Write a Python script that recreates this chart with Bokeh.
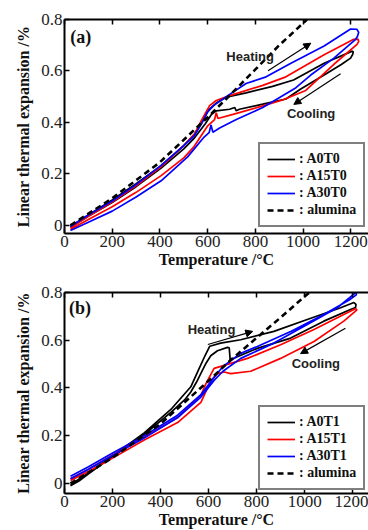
from bokeh.plotting import figure
from bokeh.models import (Range1d, LinearAxis, FixedTicker, Legend, LegendItem,
                          Label, Arrow, NormalHead)
from bokeh.layouts import column
from bokeh.embed import file_html
from bokeh.resources import INLINE

# ---------------- panel (a) data ----------------
a_A0T0_T = [25, 100, 200, 300, 405, 500, 545, 590, 615, 636, 692, 713, 720, 733, 831, 928, 990, 1088, 1160, 1199, 1208,
            1210, 1206, 1088, 960, 872, 761, 678, 636, 605, 575, 545, 500, 405, 300, 200, 100, 25]
a_A0T0_E = [-0.008, 0.035, 0.088, 0.150, 0.222, 0.297, 0.340, 0.395, 0.430, 0.445, 0.451, 0.458, 0.445, 0.451, 0.471, 0.491, 0.530, 0.584, 0.625, 0.650, 0.665,
            0.675, 0.677, 0.630, 0.565, 0.540, 0.515, 0.498, 0.475, 0.450, 0.400, 0.355, 0.310, 0.232, 0.162, 0.098, 0.040, -0.005]

a_A15T0_T = [25, 100, 200, 300, 405, 500, 545, 575, 608, 636, 692, 831, 928, 1088, 1212, 1230,
             1233, 1226, 1129, 1011, 914, 831, 706, 643, 636, 629, 599, 543, 500, 405, 300, 200, 100, 25]
a_A15T0_E = [-0.010, 0.035, 0.090, 0.153, 0.228, 0.310, 0.355, 0.410, 0.465, 0.485, 0.504, 0.544, 0.577, 0.663, 0.723, 0.724,
             0.715, 0.703, 0.626, 0.524, 0.487, 0.464, 0.431, 0.415, 0.438, 0.411, 0.385, 0.306, 0.262, 0.193, 0.128, 0.072, 0.022, -0.016]

a_A30T0_T = [25, 100, 200, 300, 405, 500, 543, 575, 599, 626, 678, 761, 845, 949, 1088, 1199, 1225, 1233,
             1228, 1220, 1129, 1032, 970, 831, 720, 650, 622, 614, 606, 585, 516, 405, 300, 200, 100, 25]
a_A30T0_E = [-0.005, 0.040, 0.094, 0.158, 0.233, 0.310, 0.347, 0.395, 0.440, 0.466, 0.500, 0.551, 0.577, 0.630, 0.697, 0.763, 0.762, 0.750,
             0.735, 0.723, 0.650, 0.584, 0.535, 0.458, 0.411, 0.378, 0.362, 0.390, 0.360, 0.343, 0.266, 0.173, 0.110, 0.055, 0.012, -0.020]

a_alumina_T = [25, 200, 400, 600, 699, 800, 900, 1004, 1016]
a_alumina_E = [0.000, 0.105, 0.245, 0.420, 0.511, 0.606, 0.700, 0.789, 0.800]

# ---------------- panel (b) data ----------------
b_A0T1_T = [25, 60, 100, 193, 332, 443, 500, 526, 550, 570, 590, 609, 637, 679, 686, 690, 720, 803, 942, 1080, 1191, 1212,
            1214, 1205, 1150, 1011, 872, 734, 650, 605, 585, 560, 526, 443, 332, 193, 100, 25]
b_A0T1_E = [-0.010, 0.010, 0.040, 0.107, 0.205, 0.298, 0.350, 0.383, 0.425, 0.465, 0.505, 0.535, 0.556, 0.570, 0.568, 0.517, 0.531, 0.566, 0.609, 0.680, 0.729, 0.737,
            0.750, 0.758, 0.736, 0.687, 0.637, 0.602, 0.588, 0.575, 0.535, 0.480, 0.405, 0.310, 0.212, 0.110, 0.045, -0.005]

b_A15T1_T = [25, 100, 193, 332, 471, 568, 609, 637, 665, 692, 775, 900, 1039, 1163, 1212, 1218,
             1212, 1205, 1163, 1039, 900, 762, 623, 590, 568, 471, 332, 193, 100, 25]
b_A15T1_E = [0.012, 0.050, 0.102, 0.182, 0.255, 0.340, 0.430, 0.460, 0.467, 0.460, 0.470, 0.524, 0.595, 0.680, 0.722, 0.728,
             0.732, 0.729, 0.708, 0.645, 0.581, 0.524, 0.482, 0.420, 0.370, 0.275, 0.195, 0.115, 0.060, 0.020]

b_A30T1_T = [25, 100, 193, 332, 471, 568, 623, 660, 734, 872, 1011, 1136, 1205, 1215,
             1215, 1191, 1080, 942, 803, 734, 660, 623, 568, 471, 332, 193, 100, 25]
b_A30T1_E = [0.020, 0.060, 0.113, 0.190, 0.276, 0.362, 0.432, 0.470, 0.524, 0.588, 0.666, 0.736, 0.793, 0.805,
             0.790, 0.772, 0.708, 0.637, 0.574, 0.545, 0.490, 0.445, 0.372, 0.286, 0.200, 0.123, 0.070, 0.030]

b_alumina_T = [25, 200, 400, 600, 692, 800, 900, 1011, 1020]
b_alumina_E = [0.000, 0.108, 0.250, 0.430, 0.517, 0.610, 0.695, 0.793, 0.800]

x_ticks = [0, 200, 400, 600, 800, 1000, 1200]
y_ticks = [0, 0.2, 0.4, 0.6, 0.8]
y_tick_labels = ["0", "0.2", "0.4", "0.6", "0.8"]

SERIF = "Liberation Serif"
SANS = "Liberation Sans"


def style_axis(ax, labels=True):
    ax.axis_line_width = 2
    ax.axis_line_color = "black"
    ax.major_tick_in = 5
    ax.major_tick_out = 0
    ax.minor_tick_in = 0
    ax.minor_tick_out = 0
    ax.major_tick_line_width = 1.5
    ax.major_label_text_font = SERIF
    ax.major_label_text_font_size = "17px"
    if labels:
        ax.major_label_text_color = "#222222"
    else:
        ax.major_label_text_color = None
        ax.major_label_standoff = 0


def make_panel(height, left, top, yr, series, alumina, names, tag, heat, cool, leg_loc, x_end):
    p = figure(width=368, height=height, output_backend="svg", toolbar_location=None,
               x_range=Range1d(0, x_end), y_range=Range1d(*yr),
               min_border_left=left, min_border_right=0, min_border_top=top,
               min_border_bottom=10)
    p.grid.visible = False
    p.outline_line_color = None
    p.background_fill_color = "white"

    p.xaxis.ticker = FixedTicker(ticks=x_ticks)
    p.yaxis.ticker = FixedTicker(ticks=y_ticks)
    p.yaxis.major_label_overrides = {t: l for t, l in zip(y_ticks, y_tick_labels)}
    style_axis(p.xaxis[0])
    style_axis(p.yaxis[0])
    p.xaxis.major_label_standoff = 2
    p.yaxis.major_label_standoff = 2
    p.xaxis.axis_label = "Temperature /\u00b0C"
    p.yaxis.axis_label = "Linear thermal expansion /%"
    for ax in (p.xaxis[0], p.yaxis[0]):
        ax.axis_label_text_font = SERIF
        ax.axis_label_text_font_style = "bold"
        ax.axis_label_text_font_size = "16px"
        ax.axis_label_text_color = "#111111"
    p.xaxis.axis_label_standoff = 1
    p.yaxis.axis_label_standoff = 6

    top_ax = LinearAxis(ticker=FixedTicker(ticks=x_ticks))
    style_axis(top_ax, labels=False)
    p.add_layout(top_ax, "above")

    colors = ["black", "#ff0000", "#0000ff"]
    items = []
    for (T, E), c, n in zip(series, colors, names):
        r = p.line(T, E, line_color=c, line_width=1.7)
        items.append(LegendItem(label=": " + n, renderers=[r]))
    ra = p.line(alumina[0], alumina[1], line_color="black", line_width=2.6, line_dash="6 4")
    items.append(LegendItem(label=": alumina", renderers=[ra]))

    leg = Legend(items=items, location=leg_loc, orientation="vertical",
                 label_text_font=SERIF, label_text_font_style="bold", label_text_font_size="14px",
                 label_text_color="#111111",
                 label_height=14, glyph_height=14, glyph_width=28, label_standoff=4,
                 spacing=1, padding=7, margin=0,
                 border_line_color="black", border_line_width=2,
                 background_fill_color="white", background_fill_alpha=1)
    p.add_layout(leg, "center")

    p.add_layout(Label(x=tag[1], y=tag[2], text=tag[0], text_font=SERIF, text_font_style="bold",
                       text_font_size="18px", text_baseline="top", text_color="#111111"))

    for (txt, tx, ty), (x0, y0, x1, y1) in (heat, cool):
        p.add_layout(Label(x=tx, y=ty, text=txt, text_font=SANS, text_font_style="bold",
                           text_font_size="13px", text_baseline="middle", text_color="#222222"))
        p.add_layout(Arrow(x_start=x0, y_start=y0, x_end=x1, y_end=y1, line_width=1.2,
                           line_color="black",
                           end=NormalHead(size=7, fill_color="black", line_color="black")))
    return p


pa = make_panel(270, 62, 19, (-0.032, 0.8),
                [(a_A0T0_T, a_A0T0_E), (a_A15T0_T, a_A15T0_E), (a_A30T0_T, a_A30T0_E)],
                (a_alumina_T, a_alumina_E), ["A0T0", "A15T0", "A30T0"],
                ("(a)", 24, 0.772),
                (("Heating", 678, 0.657), (853, 0.601, 1032, 0.708)),
                (("Cooling", 932, 0.434), (1157, 0.589, 961, 0.470)),
                (194, 6), 1274)

pb = make_panel(260, 64, 22, (-0.042, 0.8),
                [(b_A0T1_T, b_A0T1_E), (b_A15T1_T, b_A15T1_E), (b_A30T1_T, b_A30T1_E)],
                (b_alumina_T, b_alumina_E), ["A0T1", "A15T1", "A30T1"],
                ("(b)", 19, 0.775),
                (("Heating", 513, 0.646), (597, 0.582, 784, 0.637)),
                (("Cooling", 946, 0.501), (1170, 0.650, 983, 0.544)),
                (194, 3), 1266)

layout = column(pa, pb, spacing=0)
open("out.html", "w").write(file_html(layout, INLINE))
